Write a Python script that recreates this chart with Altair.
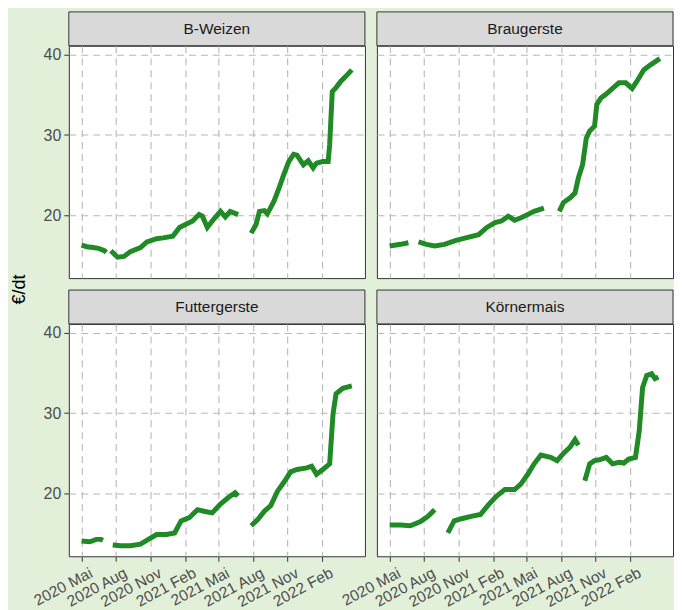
import altair as alt
import pandas as pd

crops = ["B-Weizen", "Braugerste", "Futtergerste", "Körnermais"]

weizen_dates = ["2020-05-01", "2020-05-15", "2020-06-01", "2020-06-15", "2020-07-01", "2020-07-06", None,
                "2020-07-18", "2020-08-05", "2020-08-22", "2020-09-08", "2020-10-05", "2020-10-22", "2020-11-17",
                "2020-12-04", "2020-12-30", "2021-01-17", "2021-02-03", "2021-02-21", "2021-03-10", "2021-03-19",
                "2021-04-01", "2021-04-14", "2021-05-06", "2021-05-19", "2021-06-01", "2021-06-22", None,
                "2021-07-27", "2021-08-09", "2021-08-18", "2021-08-31", "2021-09-08", "2021-09-26", "2021-10-09",
                "2021-10-22", "2021-11-04", "2021-11-17", "2021-11-26", "2021-12-13", "2021-12-26", "2022-01-08",
                "2022-01-17", "2022-02-03", "2022-02-17", "2022-02-21", "2022-02-28", "2022-03-10", "2022-03-23",
                "2022-04-05", "2022-04-21"]
weizen_vals = [16.3, 16.1, 16.0, 15.9, 15.6, 15.4, None,
               15.6, 14.8, 14.9, 15.5, 16.0, 16.7, 17.1,
               17.2, 17.4, 18.5, 18.9, 19.3, 20.1, 19.9,
               18.5, 19.3, 20.5, 19.8, 20.5, 20.1, None,
               17.8, 18.9, 20.5, 20.6, 20.2, 21.8, 23.4,
               25.1, 26.7, 27.6, 27.5, 26.3, 26.8, 25.9,
               26.5, 26.7, 26.7, 28.8, 35.4, 35.9, 36.7,
               37.3, 38.1]

brau_dates = ["2020-05-01", "2020-05-30", "2020-06-20", None,
              "2020-07-17", "2020-08-07", "2020-08-29", "2020-09-24", "2020-10-25", "2020-11-20", "2020-12-24",
              "2021-01-15", "2021-02-06", "2021-02-23", "2021-03-13", "2021-03-30", "2021-04-16", "2021-05-04",
              "2021-05-21", "2021-06-16", None,
              "2021-07-27", "2021-08-07", "2021-08-25", "2021-09-07", "2021-09-16", "2021-09-27", "2021-10-07",
              "2021-10-16", "2021-10-29", "2021-11-04", "2021-11-15", "2021-11-29", "2021-12-16", "2022-01-02",
              "2022-01-20", "2022-02-06", "2022-02-19", "2022-03-09", "2022-03-26", "2022-04-21"]
brau_vals = [16.2, 16.4, 16.6, None,
             16.7, 16.4, 16.2, 16.4, 16.9, 17.2, 17.6,
             18.5, 19.1, 19.3, 19.9, 19.4, 19.7, 20.1,
             20.5, 20.9, None,
             20.5, 21.6, 22.2, 22.8, 24.7, 26.3, 29.6,
             30.5, 31.1, 33.8, 34.6, 35.1, 35.8, 36.5,
             36.5, 35.8, 36.7, 38.1, 38.7, 39.5]

futter_dates = ["2020-05-01", "2020-05-23", "2020-06-09", "2020-06-22", "2020-06-27", None,
                "2020-07-23", "2020-08-13", "2020-09-08", "2020-10-05", "2020-10-26", "2020-11-17", "2020-12-13",
                "2021-01-04", "2021-01-21", "2021-02-12", "2021-03-06", "2021-03-23", "2021-04-14", "2021-05-06",
                "2021-05-27", "2021-06-14", "2021-06-22", None,
                "2021-07-27", "2021-08-14", "2021-08-31", "2021-09-17", "2021-10-05", "2021-10-22", "2021-11-09",
                "2021-11-26", "2021-12-22", "2022-01-04", "2022-01-17", "2022-02-03", "2022-02-21", "2022-03-02",
                "2022-03-10", "2022-03-28", "2022-04-21"]
futter_vals = [14.1, 14.0, 14.3, 14.3, 14.2, None,
               13.6, 13.5, 13.5, 13.7, 14.3, 14.9, 14.9,
               15.1, 16.6, 17.0, 18.0, 17.8, 17.6, 18.7,
               19.5, 20.1, 19.7, None,
               16.0, 16.8, 17.8, 18.5, 20.3, 21.4, 22.7,
               23.0, 23.2, 23.4, 22.4, 23.0, 23.7, 29.9,
               32.4, 33.1, 33.4]

mais_dates = ["2020-05-01", "2020-05-30", "2020-06-25", "2020-07-21", "2020-08-12", "2020-08-29", None,
              "2020-10-03", "2020-10-20", "2020-11-11", "2020-12-07", "2020-12-29", "2021-01-19", "2021-02-10",
              "2021-03-04", "2021-03-30", "2021-04-16", "2021-05-04", "2021-05-21", "2021-06-08", "2021-07-04",
              "2021-07-21", "2021-08-07", "2021-08-25", "2021-09-07", "2021-09-16", None,
              "2021-10-03", "2021-10-16", "2021-10-29", "2021-11-11", "2021-11-29", "2021-12-16", "2022-01-02",
              "2022-01-15", "2022-01-28", "2022-02-15", "2022-02-25", "2022-03-06", "2022-03-17", "2022-03-30",
              "2022-04-08", "2022-04-17"]
mais_vals = [16.1, 16.1, 16.0, 16.5, 17.2, 18.0, None,
             15.1, 16.6, 16.9, 17.2, 17.4, 18.6, 19.7,
             20.5, 20.5, 21.2, 22.4, 23.7, 24.8, 24.5,
             24.1, 25.0, 25.8, 26.7, 26.0, None,
             21.6, 23.7, 24.1, 24.2, 24.5, 23.7, 23.9,
             23.8, 24.3, 24.5, 27.8, 33.2, 34.7, 34.9,
             34.3, 34.5]

tick_dates = ["2020-05-01", "2020-08-01", "2020-11-01", "2021-02-01",
              "2021-05-01", "2021-08-01", "2021-11-01", "2022-02-01"]
tick_labels = ["2020 Mai", "2020 Aug", "2020 Nov", "2021 Feb",
               "2021 Mai", "2021 Aug", "2021 Nov", "2022 Feb"]
y_ticks = [20, 30, 40]
x_domain = ["2020-03-28", "2022-05-26"]
y_domain = [12.2, 41.1]

series = {
    "B-Weizen": (weizen_dates, weizen_vals),
    "Braugerste": (brau_dates, brau_vals),
    "Futtergerste": (futter_dates, futter_vals),
    "Körnermais": (mais_dates, mais_vals),
}

rows = []
for crop in crops:
    ds, vs = series[crop]
    seg = 0
    for d, v in zip(ds, vs):
        if d is None:
            seg += 1
            continue
        rows.append({"crop": crop, "date": d, "value": v, "seg": seg})
df = pd.DataFrame(rows)


def ms(d):
    return int(pd.Timestamp(d).value // 10**6)


tick_ms = [ms(d) for d in tick_dates]
dom_ms = [ms(d) for d in x_domain]
label_obj = "{" + ", ".join(f"'{d[:7]}': '{l}'" for d, l in zip(tick_dates, tick_labels)) + "}"
label_expr = label_obj + "[utcFormat(datum.value, '%Y-%m')]"

FONT = "Liberation Sans"
BG = "#e2f0da"
LINE = "#1f8a26"
GRID = "#b8b8b8"
W, PH = 297, 233


def plot(crop, show_x, show_y, ytitle=False):
    x_axis = alt.Axis(values=tick_ms, labelExpr=label_expr, labels=show_x, ticks=show_x,
                      domain=False, grid=True, gridColor=GRID, gridDash=[7, 5], gridWidth=1.1,
                      labelAngle=332, labelAlign="right", labelBaseline="top",
                      labelOverlap=False, labelFlush=False, labelBound=False, labelOffset=6,
                      labelFont=FONT, labelFontSize=15.5, labelColor="#4d4d4d",
                      tickColor="#333333", tickSize=5, labelPadding=4, title=None)
    y_kwargs = dict(values=y_ticks, labels=show_y, ticks=show_y, domain=False, grid=True,
                    gridColor=GRID, gridDash=[7, 5], gridWidth=1.1,
                    labelFont=FONT, labelFontSize=16, labelColor="#4d4d4d",
                    tickColor="#333333", tickSize=5, labelPadding=3)
    if ytitle:
        y_axis = alt.Axis(title="€/dt", titleFont=FONT, titleFontSize=18, titleFontWeight="normal",
                          titleColor="#000000", titleAngle=270, titleX=-49, titleY=-35,
                          titleAlign="center", titleBaseline="middle", **y_kwargs)
    else:
        y_axis = alt.Axis(title=None, **y_kwargs)
    return alt.Chart(df).transform_filter(alt.datum.crop == crop).mark_line(
        color=LINE, strokeWidth=5, clip=True
    ).encode(
        x=alt.X("date:T", scale=alt.Scale(type="utc", domain=dom_ms), axis=x_axis),
        y=alt.Y("value:Q", scale=alt.Scale(domain=y_domain, nice=False, zero=False), axis=y_axis),
        detail="seg:N",
    ).properties(width=W, height=PH,
                 view=alt.ViewBackground(fill="white", stroke="#333333", strokeWidth=1))


def strip(crop, gap):
    H = 34 + gap
    d = pd.DataFrame({"crop": [crop]})
    rect = alt.Chart(d).mark_rect(fill="#d9d9d9", stroke="#333333", strokeWidth=1).encode(
        x=alt.value(0), x2=alt.value(W), y=alt.value(gap), y2=alt.value(H))
    txt = alt.Chart(d).mark_text(font=FONT, fontSize=15.5, color="#1a1a1a").encode(
        text="crop:N", x=alt.value(W / 2), y=alt.value(gap + 17))
    return alt.layer(rect, txt).properties(
        width=W, height=H, view=alt.ViewBackground(stroke="transparent"))


cells = [
    strip(crops[0], 0), strip(crops[1], 0),
    plot(crops[0], False, True), plot(crops[1], False, False),
    strip(crops[2], 12), strip(crops[3], 12),
    plot(crops[2], True, True, ytitle=True), plot(crops[3], True, False),
]

chart = alt.concat(*cells, columns=2, spacing={"row": 0, "column": 12}, bounds="flush").properties(
    background=BG,
    padding={"left": 2, "top": 2, "right": 0, "bottom": 0},
).configure_view(stroke="#333333")

chart.save("out.html", embed_options={"renderer": "svg", "actions": False})
